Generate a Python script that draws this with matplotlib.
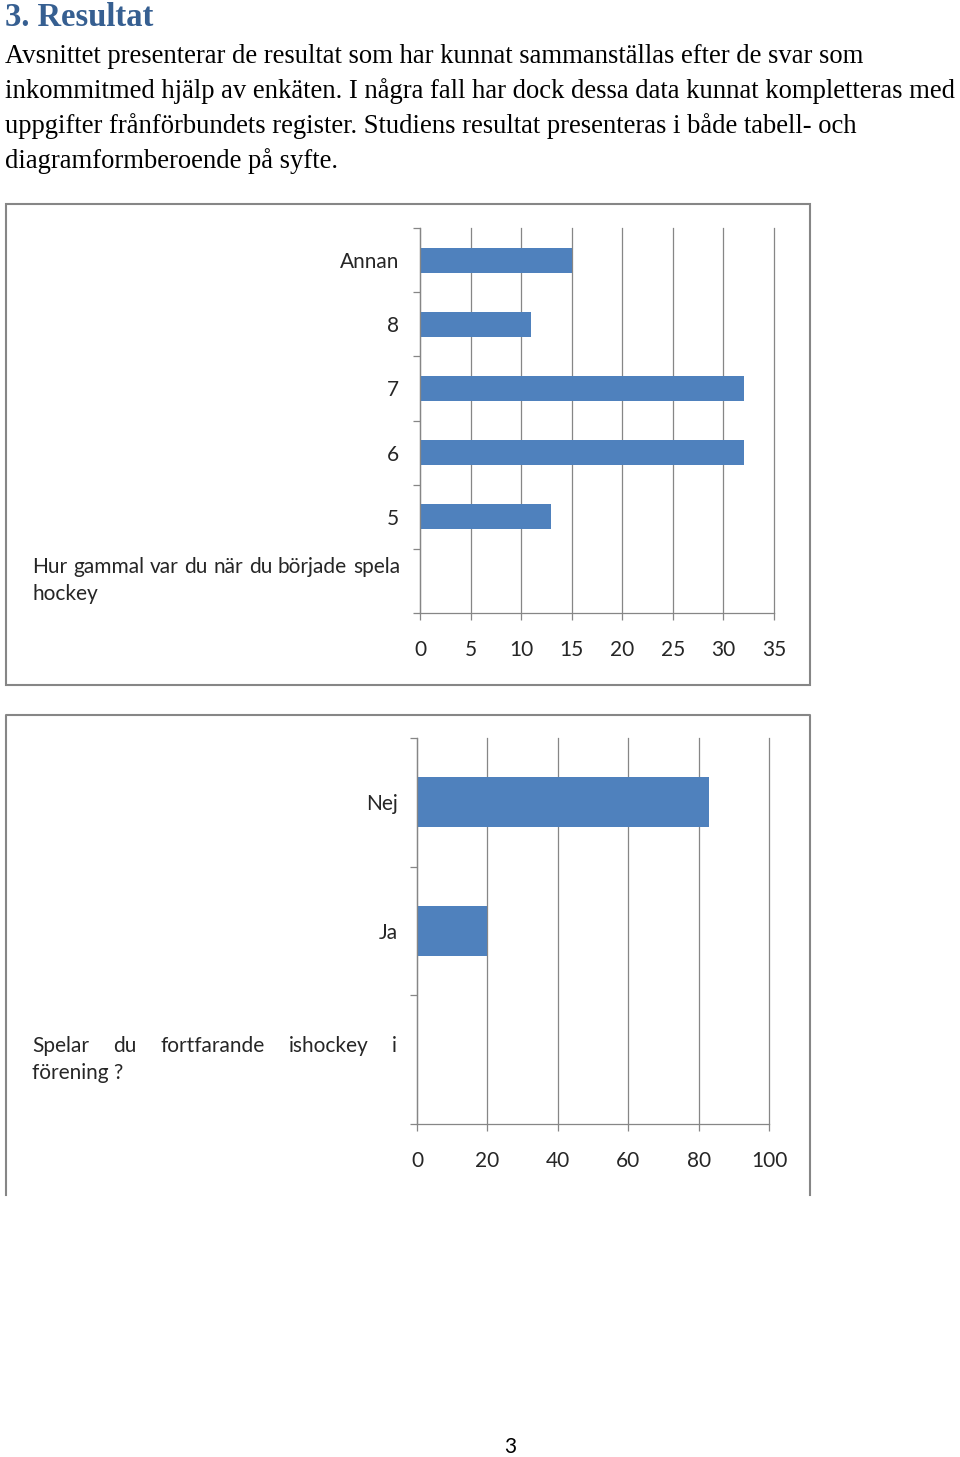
import matplotlib.pyplot as plt
import numpy as np
from matplotlib.transforms import IdentityTransform
from matplotlib.patches import Rectangle
from matplotlib.lines import Line2D

# Page text
heading = "3. Resultat"
paragraph = [
    "Avsnittet presenterar de resultat som har kunnat sammanställas efter de svar som",
    "inkommitmed hjälp av enkäten. I några fall har dock dessa data kunnat kompletteras med",
    "uppgifter frånförbundets register. Studiens resultat presenteras i både tabell- och",
    "diagramformberoende på syfte.",
]
page_number = "3"

# Chart 1: age when starting to play
q1 = "Hur gammal var du när du började spela\nhockey"
cats1 = ["5", "6", "7", "8", "Annan"]
vals1 = [13, 32, 32, 11, 15]
xticks1 = [0, 5, 10, 15, 20, 25, 30, 35]

# Chart 2: still playing in a club
q2 = "Spelar du fortfarande ishockey i\nförening ?"
cats2 = ["Ja", "Nej"]
vals2 = [20, 83]
xticks2 = [0, 20, 40, 60, 80, 100]

W, H = 960, 1457
BAR = "#4F81BD"
GRID = "#868686"
TXT = "#262626"
CFONT = "Lato"

fig = plt.figure(figsize=(W / 100, H / 100), dpi=100)
px = IdentityTransform()


def add_axes_px(left, top, right, bottom):
    return fig.add_axes([left / W, 1 - bottom / H, (right - left) / W, (bottom - top) / H])


# heading and paragraph
fig.text(5, H - 26, heading, transform=px, fontsize=23.5, fontweight="bold",
         family="Liberation Serif", color="#365F91", va="baseline")
for i, line in enumerate(paragraph):
    fig.text(5, H - 63 - 35 * i, line, transform=px, fontsize=19.2,
             family="Liberation Serif", color="black", va="baseline")


def justified_label(ax, ypos, label, x0, x1, size):
    renderer = fig.canvas.get_renderer()
    yc = ax.transData.transform((0, ypos))[1]
    lines = label.split("\n")
    step = 27
    top = yc + step * (len(lines) - 1) / 2
    for k, line in enumerate(lines):
        y = top - k * step
        words = line.split(" ")
        if k == len(lines) - 1 or len(words) == 1:
            fig.text(x0, y, line, transform=px, fontsize=size, family=CFONT,
                     color=TXT, va="center")
            continue
        arts = [fig.text(0, y, w, transform=px, fontsize=size, family=CFONT,
                         color=TXT, va="center") for w in words]
        widths = [a.get_window_extent(renderer).width for a in arts]
        gap = (x1 - x0 - sum(widths)) / (len(words) - 1)
        x = x0
        for a, wd in zip(arts, widths):
            a.set_x(x)
            x += wd + gap


def bar_chart(ax, cats, vals, xticks, label_pad):
    n = len(cats)
    ypos = np.arange(1, n + 1)
    ax.barh(ypos, vals, height=0.39, color=BAR, zorder=2)
    ax.set_xlim(xticks[0], xticks[-1])
    ax.set_ylim(-0.5, n + 0.5)
    ax.set_xticks(xticks)
    ax.set_yticks(np.arange(0, n + 1))
    ax.set_yticklabels([""] + cats)
    ax.set_yticks(np.arange(-0.5, n + 1), minor=True)
    ax.grid(axis="x", color=GRID, lw=0.9, zorder=0)
    ax.set_axisbelow(True)
    for g in ax.get_xgridlines():
        g.set_clip_on(False)
    for s in ["top", "right"]:
        ax.spines[s].set_visible(False)
    for s in ["left", "bottom"]:
        ax.spines[s].set_color(GRID)
        ax.spines[s].set_linewidth(0.9)
    ax.tick_params(axis="x", direction="out", length=5, width=0.9, color=GRID,
                   pad=14.5, labelsize=15, labelcolor=TXT)
    ax.tick_params(axis="y", which="major", length=0, pad=label_pad,
                   labelsize=15, labelcolor=TXT)
    ax.tick_params(axis="y", which="minor", direction="out", length=5,
                   width=0.9, color=GRID)
    for t in ax.get_xticklabels() + ax.get_yticklabels():
        t.set_family(CFONT)
    return ax


ax1 = add_axes_px(420, 228, 774, 613)
bar_chart(ax1, cats1, vals1, xticks1, 15)
ax2 = add_axes_px(417, 738, 769, 1124)
bar_chart(ax2, cats2, vals2, xticks2, 14)

justified_label(ax1, 0, q1, 32, 400, 15)
justified_label(ax2, 0, q2, 32, 397, 15)

# chart frames
fig.add_artist(Rectangle((6, H - 685), 804, 481, transform=px, fill=False,
                         edgecolor=GRID, lw=1.5))
fig.add_artist(Line2D([6, 6, 810, 810], [H - 1195, H - 715, H - 715, H - 1195],
                      transform=px, color=GRID, lw=1.5))

fig.text(510, H - 1447, page_number, transform=px, fontsize=15, family=CFONT,
         color="black", ha="center", va="center")

fig.savefig("out.png", dpi=100)
